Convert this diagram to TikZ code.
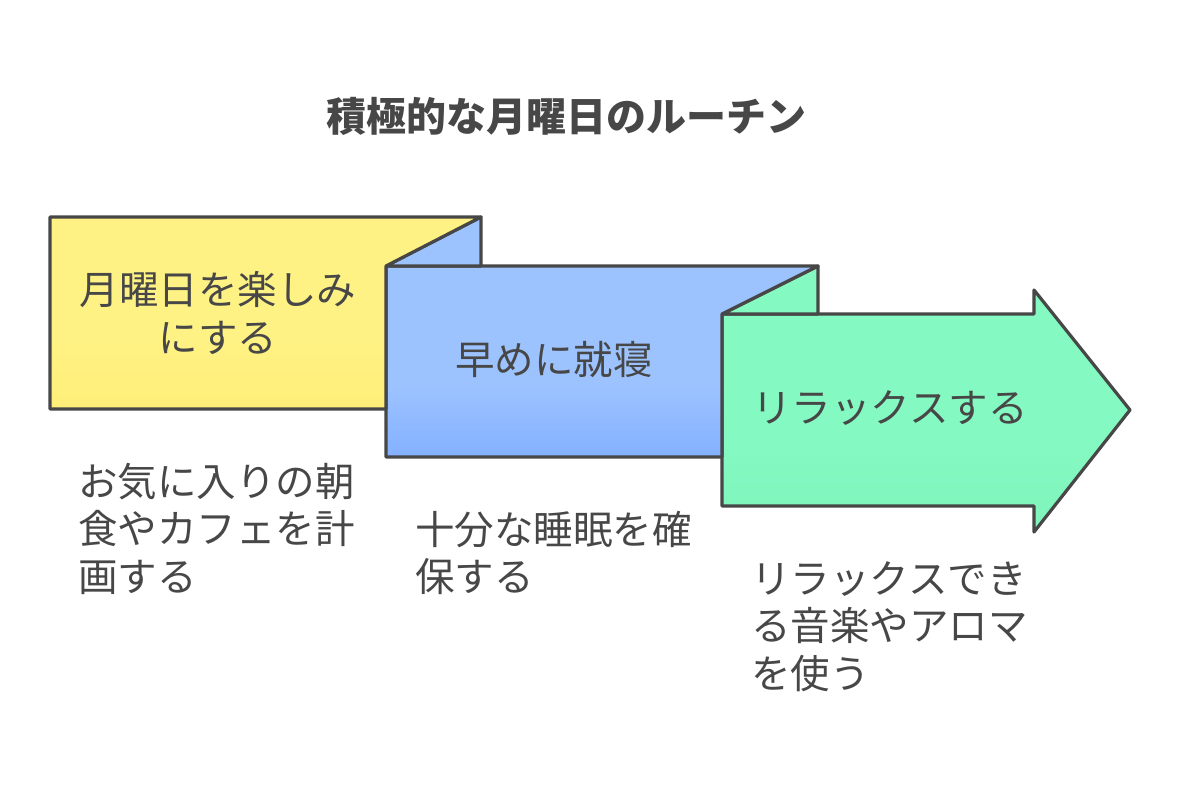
\documentclass[tikz,border=0pt]{standalone}
\usepackage{fontspec}
\setmainfont{Noto Sans CJK JP}
\usetikzlibrary{calc}
\definecolor{ink}{HTML}{474747}
\definecolor{yelA}{HTML}{FFF284}
\definecolor{yelB}{HTML}{FFEE78}
\definecolor{bluA}{HTML}{9DC3FF}
\definecolor{bluB}{HTML}{82AFFF}
\definecolor{grnA}{HTML}{84FAC2}
\definecolor{grnB}{HTML}{7EF3BA}
\tikzset{
  outline/.style={draw=ink,line width=3.2pt,line join=round},
  boxtext/.style={text=ink,font=\fontsize{39.5}{47.5}\selectfont,align=center,inner sep=0pt},
  desctext/.style={text=ink,font=\fontsize{39.5}{47.5}\selectfont,align=left,anchor=north west,inner sep=0pt},
  titletext/.style={text=ink,font=\fontsize{40}{46}\selectfont\bfseries,inner sep=0pt}
}
\begin{document}
\begin{tikzpicture}[x=1pt,y=-1pt]
\useasboundingbox (0,0) rectangle (1181,796);
% green arrow
\def\grn{(722,314) -- (1034,314) -- (1034,290) -- (1130,410) -- (1034,532) -- (1034,506) -- (722,506) -- cycle}
\fill[grnA] \grn;
\begin{scope}\clip \grn; \shade[top color=grnA,bottom color=grnB] (700,440) rectangle (1140,540);\end{scope}
\draw[outline] \grn;
\filldraw[outline,fill=grnA] (722,314) -- (818,266) -- (818,314) -- cycle;
% blue
\def\blu{(386,266) -- (818,266) -- (722,314) -- (722,457) -- (386,457) -- cycle}
\fill[bluA] \blu;
\begin{scope}\clip \blu; \shade[top color=bluA,bottom color=bluB] (380,385) rectangle (730,460);\end{scope}
\draw[outline] \blu;
\filldraw[outline,fill=bluA] (386,266) -- (481,217) -- (481,266) -- cycle;
% yellow
\def\yel{(50,217) -- (481,217) -- (386,266) -- (386,409) -- (50,409) -- cycle}
\fill[yelA] \yel;
\begin{scope}\clip \yel; \shade[top color=yelA,bottom color=yelB] (40,340) rectangle (400,412);\end{scope}
\draw[outline] \yel;
% texts
\node[titletext] (title) at (566,116) {積極的な月曜日のルーチン};
\node[boxtext] (t1) at (218,313) {月曜日を楽しみ\\にする};
\node[boxtext] (t2) at (554,360) {早めに就寝};
\node[boxtext] (t3) at (890,408) {リラックスする};
\node[desctext] (d1) at (78,463) {お気に入りの朝\\食やカフェを計\\画する};
\node[desctext] (d2) at (415,511) {十分な睡眠を確\\保する};
\node[desctext] (d3) at (751,561) {リラックスでき\\る音楽やアロマ\\を使う};
\end{tikzpicture}
\end{document}
